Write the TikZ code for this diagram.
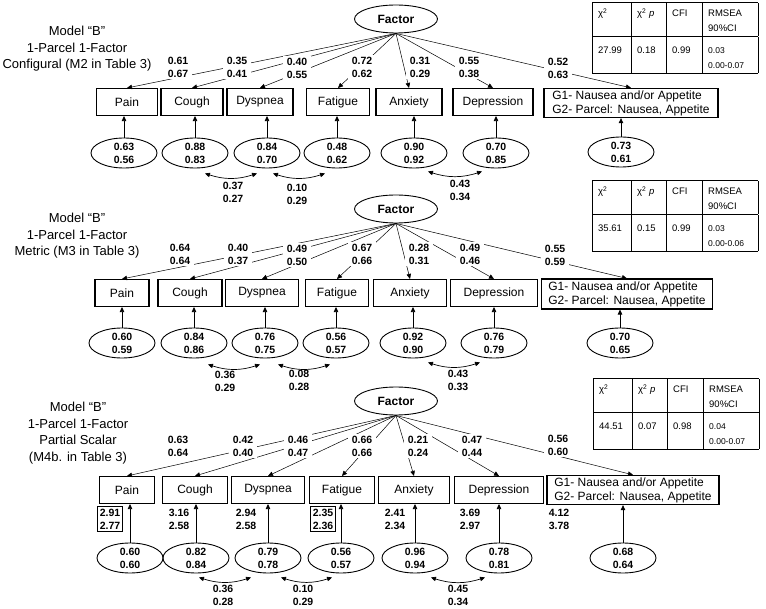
\documentclass[tikz,border=0pt]{standalone}
\usepackage{fontspec}
\setmainfont{Liberation Sans}
\usepackage{tikz}
\usetikzlibrary{arrows.meta,shapes.geometric}
\setlength{\tabcolsep}{6pt}
\setlength{\arrayrulewidth}{0.8pt}
\newcommand{\fitgrid}[5]{%
\begin{tabular}{|p{27pt}|p{23pt}|p{24pt}|p{44pt}|}\hline
\rule{0pt}{14pt}χ\textsuperscript{2}\rule[-17pt]{0pt}{0pt} & χ\textsuperscript{2} \textit{p} & CFI & RMSEA\newline 90\%CI\\\hline
\rule{0pt}{16pt}#1\rule[-18pt]{0pt}{0pt} & #2 & #3 & {\fontsize{8.5}{11}\selectfont #4\newline #5}\\\hline
\end{tabular}}

\begin{document}
\begin{tikzpicture}[x=1pt,y=-1pt,>={Triangle[length=5pt,width=4.5pt]},
  fac/.style={draw,ellipse,line width=0.9pt,minimum width=83pt,minimum height=28pt,inner sep=0pt,font=\bfseries\fontsize{12}{14}\selectfont},
  obs/.style={draw,line width=1.1pt,minimum height=27pt,inner sep=2pt,font=\fontsize{12}{14}\selectfont},
  err/.style={draw,ellipse,line width=0.9pt,minimum width=66pt,minimum height=30pt,inner sep=0pt,align=center,font=\bfseries\fontsize{10.5}{13}\selectfont},
  val/.style={inner sep=1pt,align=center,font=\bfseries\fontsize{10.5}{13}\selectfont},
  num/.style={val,fill=white,inner xsep=4pt,inner ysep=2pt},
  icpt/.style={val,align=left},
  icbox/.style={val,align=left,draw,line width=1pt,inner sep=2pt},
  ttl/.style={align=center,font=\fontsize{13}{16.5}\selectfont},
  fit/.style={inner sep=0pt,anchor=north west,font=\fontsize{9.5}{15}\selectfont},
  load/.style={->,line width=0.5pt},
  resid/.style={->,line width=0.7pt},
  cov/.style={<->,line width=0.7pt,bend right=18}]
\useasboundingbox (0,0) rectangle (766,609);

% configural model
\node[ttl] (ttl1) at (77,49) {Model “B”\\1-Parcel 1-Factor\\Configural (M2 in Table 3)};
\node[fit] (fit1) at (592,2) {\fitgrid{27.99}{0.18}{0.99}{0.03}{0.00-0.07}};
\node[fac] (fac1) at (396,19) {Factor};
\node[obs,minimum width=61pt] (pain1) at (127,102) {Pain};
\node[obs,minimum width=62pt] (cough1) at (192,102) {Cough};
\node[obs,minimum width=66pt] (dysp1) at (260,102) {Dyspnea};
\node[obs,minimum width=63pt] (fatig1) at (338,102) {Fatigue};
\node[obs,minimum width=66pt] (anx1) at (409,102) {Anxiety};
\node[obs,minimum width=80pt] (depr1) at (493,102) {Depression};
\node[obs,minimum width=174pt,minimum height=29pt,align=left] (nau1) at (631,103) {G1- Nausea and/or Appetite\\G2- Parcel: Nausea, Appetite};
\node[err] (pain1e) at (124,153) {0.63\\0.56};
\node[err] (cough1e) at (195,153) {0.88\\0.83};
\node[err] (dysp1e) at (267,153) {0.84\\0.70};
\node[err] (fatig1e) at (337,153) {0.48\\0.62};
\node[err] (anx1e) at (414,153) {0.90\\0.92};
\node[err] (depr1e) at (496,153) {0.70\\0.85};
\node[err] (nau1e) at (621,152) {0.73\\0.61};
\draw[load] (fac1.south) -- (pain1.north);
\draw[load] (fac1.south) -- (cough1.north);
\draw[load] (fac1.south) -- (dysp1.north);
\draw[load] (fac1.south) -- (fatig1.north);
\draw[load] (fac1.south) -- (anx1.north);
\draw[load] (fac1.south) -- (depr1.north);
\draw[load] (fac1.south) -- (nau1.north);
\node[num] (pain1l) at (178,67) {0.61\\0.67};
\node[num] (cough1l) at (237,67) {0.35\\0.41};
\node[num] (dysp1l) at (297,68) {0.40\\0.55};
\node[num] (fatig1l) at (362,67) {0.72\\0.62};
\node[num] (anx1l) at (420,67) {0.31\\0.29};
\node[num] (depr1l) at (469,67) {0.55\\0.38};
\node[num] (nau1l) at (558,68) {0.52\\0.63};
\draw[resid] (pain1e.north) -- (pain1e.north |- pain1.south);
\draw[resid] (cough1e.north) -- (cough1e.north |- cough1.south);
\draw[resid] (dysp1e.north) -- (dysp1e.north |- dysp1.south);
\draw[resid] (fatig1e.north) -- (fatig1e.north |- fatig1.south);
\draw[resid] (anx1e.north) -- (anx1e.north |- anx1.south);
\draw[resid] (depr1e.north) -- (depr1e.north |- depr1.south);
\draw[resid] (nau1e.north) -- (nau1e.north |- nau1.south);
\draw[cov] ([shift={(10,5)}]cough1e.south) to ([shift={(-10,5)}]dysp1e.south);
\draw[cov] ([shift={(6,5)}]dysp1e.south) to ([shift={(-12,5)}]fatig1e.south);
\draw[cov] ([shift={(14,3)}]anx1e.south) to ([shift={(-14,3)}]depr1e.south);
\node[val] (c1a) at (233,192) {0.37\\0.27};
\node[val] (c1b) at (297,194) {0.10\\0.29};
\node[val] (c1c) at (460,190) {0.43\\0.34};

% metric model
\node[ttl] (ttl2) at (77,236) {Model “B”\\1-Parcel 1-Factor\\Metric (M3 in Table 3)};
\node[fit] (fit2) at (592,180) {\fitgrid{35.61}{0.15}{0.99}{0.03}{0.00-0.06}};
\node[fac] (fac2) at (396,209) {Factor};
\node[obs,minimum width=54pt] (pain2) at (122,293) {Pain};
\node[obs,minimum width=64pt] (cough2) at (190,293) {Cough};
\node[obs,minimum width=73pt] (dysp2) at (262,293) {Dyspnea};
\node[obs,minimum width=63pt] (fatig2) at (337,293) {Fatigue};
\node[obs,minimum width=73pt] (anx2) at (410,293) {Anxiety};
\node[obs,minimum width=87pt] (depr2) at (494,293) {Depression};
\node[obs,minimum width=171pt,minimum height=30pt,align=left] (nau2) at (627,294) {G1- Nausea and/or Appetite\\G2- Parcel: Nausea, Appetite};
\node[err] (pain2e) at (122,343) {0.60\\0.59};
\node[err] (cough2e) at (194,343) {0.84\\0.86};
\node[err] (dysp2e) at (265,343) {0.76\\0.75};
\node[err] (fatig2e) at (336,343) {0.56\\0.57};
\node[err] (anx2e) at (413,343) {0.92\\0.90};
\node[err] (depr2e) at (494,343) {0.76\\0.79};
\node[err] (nau2e) at (620,343) {0.70\\0.65};
\draw[load] (fac2.south) -- (pain2.north);
\draw[load] (fac2.south) -- (cough2.north);
\draw[load] (fac2.south) -- (dysp2.north);
\draw[load] (fac2.south) -- (fatig2.north);
\draw[load] (fac2.south) -- (anx2.north);
\draw[load] (fac2.south) -- (depr2.north);
\draw[load] (fac2.south) -- (nau2.north);
\node[num] (pain2l) at (180,254) {0.64\\0.64};
\node[num] (cough2l) at (238,254) {0.40\\0.37};
\node[num] (dysp2l) at (297,255) {0.49\\0.50};
\node[num] (fatig2l) at (362,254) {0.67\\0.66};
\node[num] (anx2l) at (419,254) {0.28\\0.31};
\node[num] (depr2l) at (470,254) {0.49\\0.46};
\node[num] (nau2l) at (555,255) {0.55\\0.59};
\draw[resid] (pain2e.north) -- (pain2e.north |- pain2.south);
\draw[resid] (cough2e.north) -- (cough2e.north |- cough2.south);
\draw[resid] (dysp2e.north) -- (dysp2e.north |- dysp2.south);
\draw[resid] (fatig2e.north) -- (fatig2e.north |- fatig2.south);
\draw[resid] (anx2e.north) -- (anx2e.north |- anx2.south);
\draw[resid] (depr2e.north) -- (depr2e.north |- depr2.south);
\draw[resid] (nau2e.north) -- (nau2e.north |- nau2.south);
\draw[cov] ([shift={(14,6)}]cough2e.south) to ([shift={(-5,6)}]dysp2e.south);
\draw[cov] ([shift={(13,6)}]dysp2e.south) to ([shift={(-6,6)}]fatig2e.south);
\draw[cov] ([shift={(15,4)}]anx2e.south) to ([shift={(-14,4)}]depr2e.south);
\node[val] (c2a) at (225,381) {0.36\\0.29};
\node[val] (c2b) at (299,380) {0.08\\0.28};
\node[val] (c2c) at (458,380) {0.43\\0.33};

% partial scalar model
\node[ttl] (ttl3) at (78,433) {Model “B”\\1-Parcel 1-Factor\\Partial Scalar\\(M4b. in Table 3)};
\node[fit] (fit3) at (593,378) {\fitgrid{44.51}{0.07}{0.98}{0.04}{0.00-0.07}};
\node[fac] (fac3) at (396,401) {Factor};
\node[obs,minimum width=55pt] (pain3) at (127,490) {Pain};
\node[obs,minimum width=65pt] (cough3) at (195,490) {Cough};
\node[obs,minimum width=73pt] (dysp3) at (268,490) {Dyspnea};
\node[obs,minimum width=65pt] (fatig3) at (342,490) {Fatigue};
\node[obs,minimum width=71pt] (anx3) at (414,490) {Anxiety};
\node[obs,minimum width=89pt] (depr3) at (499,490) {Depression};
\node[obs,minimum width=172pt,minimum height=29pt,align=left] (nau3) at (633,490) {G1- Nausea and/or Appetite\\G2- Parcel: Nausea, Appetite};
\node[err] (pain3e) at (130,558) {0.60\\0.60};
\node[err] (cough3e) at (196,558) {0.82\\0.84};
\node[err] (dysp3e) at (268,558) {0.79\\0.78};
\node[err] (fatig3e) at (341,558) {0.56\\0.57};
\node[err] (anx3e) at (415,558) {0.96\\0.94};
\node[err] (depr3e) at (499,558) {0.78\\0.81};
\node[err] (nau3e) at (623,558) {0.68\\0.64};
\draw[load] (fac3.south) -- (pain3.north);
\draw[load] (fac3.south) -- (cough3.north);
\draw[load] (fac3.south) -- (dysp3.north);
\draw[load] (fac3.south) -- (fatig3.north);
\draw[load] (fac3.south) -- (anx3.north);
\draw[load] (fac3.south) -- (depr3.north);
\draw[load] (fac3.south) -- (nau3.north);
\node[num] (pain3l) at (178,446) {0.63\\0.64};
\node[num] (cough3l) at (243,446) {0.42\\0.40};
\node[num] (dysp3l) at (298,446) {0.46\\0.47};
\node[num] (fatig3l) at (362,446) {0.66\\0.66};
\node[num] (anx3l) at (418,446) {0.21\\0.24};
\node[num] (depr3l) at (472,446) {0.47\\0.44};
\node[num] (nau3l) at (558,445) {0.56\\0.60};
\draw[resid] (pain3e.north) -- (pain3e.north |- pain3.south);
\draw[resid] (cough3e.north) -- (cough3e.north |- cough3.south);
\draw[resid] (dysp3e.north) -- (dysp3e.north |- dysp3.south);
\draw[resid] (fatig3e.north) -- (fatig3e.north |- fatig3.south);
\draw[resid] (anx3e.north) -- (anx3e.north |- anx3.south);
\draw[resid] (depr3e.north) -- (depr3e.north |- depr3.south);
\draw[resid] (nau3e.north) -- (nau3e.north |- nau3.south);
\node[icbox] (pain3i) at (110,519) {2.91\\2.77};
\node[icpt] (cough3i) at (179,519) {3.16\\2.58};
\node[icpt] (dysp3i) at (246,519) {2.94\\2.58};
\node[icbox] (fatig3i) at (323,519) {2.35\\2.36};
\node[icpt] (anx3i) at (395,519) {2.41\\2.34};
\node[icpt] (depr3i) at (470,519) {3.69\\2.97};
\node[icpt] (nau3i) at (559,519) {4.12\\3.78};
\draw[cov] ([shift={(3,4)}]cough3e.south) to ([shift={(-17,4)}]dysp3e.south);
\draw[cov] ([shift={(13,4)}]dysp3e.south) to ([shift={(-9,4)}]fatig3e.south);
\draw[cov] ([shift={(16,4)}]anx3e.south) to ([shift={(-14,4)}]depr3e.south);
\node[val] (c3a) at (223,595) {0.36\\0.28};
\node[val] (c3b) at (303,595) {0.10\\0.29};
\node[val] (c3c) at (458,595) {0.45\\0.34};
\end{tikzpicture}
\end{document}
